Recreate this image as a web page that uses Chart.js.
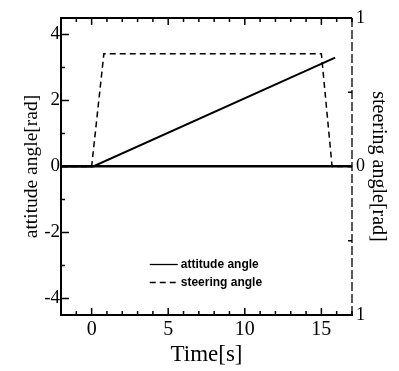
<!DOCTYPE html>
<html>
<head>
<meta charset="utf-8">
<script src="https://cdn.jsdelivr.net/npm/chart.js@4.4.1/dist/chart.umd.min.js"></script>
<style>
  html, body { margin: 0; padding: 0; background: #fff; }
  #wrap { width: 399px; height: 371px; }
</style>
</head>
<body>
<div id="wrap"><canvas id="c" width="399" height="371"></canvas></div>
<script>
// time axis [s]
var timeRange = [-2, 17];
var timeTicks = [0, 5, 10, 15];

// attitude angle [rad], left axis
var attitudeTime = [-2, 0.1, 15.9];
var attitudeVals = [0, 0, 3.3];
var attitudeRange = [-4.5, 4.5];
var attitudeTicks = [-4, -2, 0, 2, 4];

// steering angle [rad], right axis
var steeringTime = [-2, 0, 0.8, 15.0, 15.7, 17];
var steeringVals = [0, 0, 0.76, 0.76, 0, 0];
var steeringRange = [-1, 1];
var steeringTicks = [-1, 0, 1];
var steeringTickLabels = { '-1': '1', '0': '0', '1': '1' };

var SERIF = '"Liberation Serif", "DejaVu Serif", serif';

function pairs(xs, ys) {
  return xs.map(function(x, i) { return { x: x, y: ys[i] }; });
}

function fixedTicks(list) {
  return function(s) {
    s.ticks = list.map(function(v) { return { value: v }; });
  };
}

function seg(ctx, x1, y1, x2, y2) {
  ctx.beginPath();
  ctx.moveTo(x1, y1);
  ctx.lineTo(x2, y2);
  ctx.stroke();
}

// box frame with inward tick marks on all four sides
var frameTicks = {
  id: 'frameTicks',
  afterDatasetsDraw: function(chart) {
    var ctx = chart.ctx, a = chart.chartArea;
    var sx = chart.scales.x, sy = chart.scales.y, sy2 = chart.scales.y2;
    var v, p, len;
    ctx.save();
    ctx.strokeStyle = '#000';
    ctx.lineWidth = 1.5;

    for (v = Math.ceil(sx.min); v <= sx.max; v++) {
      p = sx.getPixelForValue(v);
      len = v % 5 === 0 ? 7 : 4;
      seg(ctx, p, a.bottom, p, a.bottom - len);
      seg(ctx, p, a.top, p, a.top + len);
    }
    for (v = Math.ceil(sy.min); v <= sy.max; v++) {
      p = sy.getPixelForValue(v);
      len = v % 2 === 0 ? 8 : 4;
      seg(ctx, a.left, p, a.left + len, p);
    }
    for (v = Math.ceil(sy2.min * 2) / 2; v <= sy2.max; v += 0.5) {
      p = sy2.getPixelForValue(v);
      seg(ctx, a.right, p, a.right - 4, p);
    }

    ctx.lineWidth = 2;
    seg(ctx, a.left, a.top, a.left, a.bottom);
    seg(ctx, a.left - 1, a.bottom, a.right + 1, a.bottom);
    seg(ctx, a.left - 1, a.top, a.right, a.top);
    ctx.lineWidth = 1.3;
    ctx.setLineDash([9, 3]);
    seg(ctx, a.right, a.top, a.right, a.bottom);
    ctx.restore();
  }
};

// small legend inside the plot, lower middle
var innerLegend = {
  id: 'innerLegend',
  afterDraw: function(chart) {
    var ctx = chart.ctx, a = chart.chartArea;
    var x0 = a.left + 0.305 * (a.right - a.left);
    var y0 = a.top + 0.83 * (a.bottom - a.top);
    ctx.save();
    ctx.font = 'bold 12px "Liberation Sans", Arial, sans-serif';
    ctx.textBaseline = 'middle';
    ctx.fillStyle = '#000';
    chart.data.datasets.forEach(function(ds, i) {
      var y = y0 + i * 18;
      ctx.strokeStyle = '#000';
      ctx.lineWidth = 1.3;
      ctx.setLineDash(ds.borderDash || []);
      seg(ctx, x0, y, x0 + 28, y);
      ctx.setLineDash([]);
      ctx.fillText(ds.label, x0 + 31, y);
    });
    ctx.restore();
  }
};

new Chart(document.getElementById('c'), {
  type: 'scatter',
  data: {
    datasets: [
      {
        label: 'attitude angle',
        data: pairs(attitudeTime, attitudeVals),
        yAxisID: 'y',
        showLine: true,
        borderColor: '#000',
        borderWidth: 2,
        pointRadius: 0,
        tension: 0
      },
      {
        label: 'steering angle',
        data: pairs(steeringTime, steeringVals),
        yAxisID: 'y2',
        showLine: true,
        borderColor: '#000',
        borderWidth: 1.5,
        borderDash: [6, 4],
        pointRadius: 0,
        tension: 0
      }
    ]
  },
  options: {
    responsive: false,
    animation: false,
    layout: { padding: { top: 18, left: 0, right: 0, bottom: 0 } },
    plugins: {
      legend: { display: false },
      tooltip: { enabled: false }
    },
    scales: {
      x: {
        type: 'linear',
        position: 'bottom',
        min: timeRange[0],
        max: timeRange[1],
        afterBuildTicks: fixedTicks(timeTicks),
        afterFit: function(s) { s.height = 56; },
        grid: { display: false, drawTicks: false },
        border: { display: false },
        ticks: {
          color: '#000',
          padding: 3,
          font: { family: SERIF, size: 20 }
        },
        title: {
          display: true,
          text: 'Time[s]',
          color: '#000',
          padding: { top: 0, bottom: 2 },
          font: { family: SERIF, size: 23 }
        }
      },
      y: {
        type: 'linear',
        position: 'left',
        min: attitudeRange[0],
        max: attitudeRange[1],
        afterBuildTicks: fixedTicks(attitudeTicks),
        afterFit: function(s) { s.width = 61; },
        grid: {
          drawTicks: false,
          color: function(c) { return c.tick && c.tick.value === 0 ? '#000' : 'rgba(0,0,0,0)'; },
          lineWidth: 2.5
        },
        border: { display: false },
        ticks: {
          color: '#000',
          padding: 1,
          font: { family: SERIF, size: 19 }
        },
        title: {
          display: true,
          text: 'attitude angle[rad]',
          color: '#000',
          padding: { top: 20, bottom: 0 },
          font: { family: SERIF, size: 19.5 }
        }
      },
      y2: {
        type: 'linear',
        position: 'right',
        min: steeringRange[0],
        max: steeringRange[1],
        afterBuildTicks: fixedTicks(steeringTicks),
        afterFit: function(s) { s.width = 47; },
        grid: { display: false, drawTicks: false },
        border: { display: false },
        ticks: {
          color: '#000',
          padding: 4,
          font: { family: SERIF, size: 18 },
          callback: function(v) { return steeringTickLabels[String(v)]; }
        },
        title: {
          display: true,
          text: 'steering angle[rad]',
          color: '#000',
          padding: { top: 9, bottom: 0 },
          font: { family: SERIF, size: 20 }
        }
      }
    }
  },
  plugins: [frameTicks, innerLegend]
});
</script>
</body>
</html>
